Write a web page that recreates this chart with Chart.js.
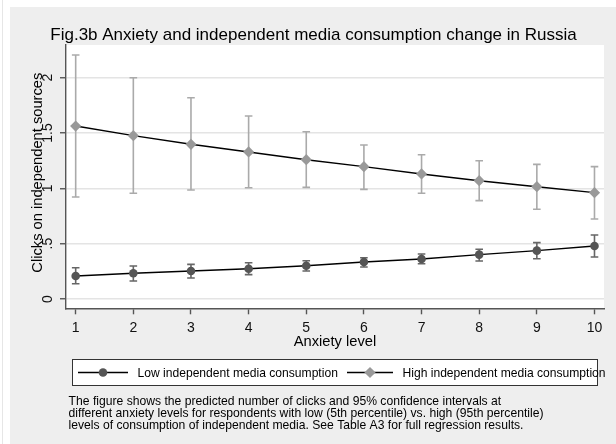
<!DOCTYPE html>
<html>
<head>
<meta charset="utf-8">
<script src="https://cdn.jsdelivr.net/npm/chart.js@4"></script>
<style>
  html, body { margin: 0; padding: 0; background: #fff; }
  canvas { display: block; }
</style>
</head>
<body>
<canvas id="chart" width="616" height="444"></canvas>
<script>
// Predicted clicks with 95% confidence intervals by anxiety level
const anxietyLevels = [1, 2, 3, 4, 5, 6, 7, 8, 9, 10];

const lowMean  = [0.208, 0.232, 0.253, 0.274, 0.301, 0.334, 0.362, 0.401, 0.437, 0.479];
const lowLower = [0.138, 0.163, 0.190, 0.220, 0.253, 0.289, 0.319, 0.343, 0.364, 0.380];
const lowUpper = [0.283, 0.298, 0.313, 0.328, 0.346, 0.373, 0.407, 0.449, 0.509, 0.578];

const highMean  = [1.563, 1.476, 1.398, 1.329, 1.259, 1.196, 1.130, 1.069, 1.015, 0.961];
const highLower = [0.922, 0.955, 0.985, 1.006, 1.009, 0.991, 0.955, 0.889, 0.811, 0.723];
const highUpper = [2.205, 2.000, 1.819, 1.654, 1.512, 1.392, 1.304, 1.250, 1.217, 1.196];

const xTickValues = [1, 2, 3, 4, 5, 6, 7, 8, 9, 10];
const xTickLabels = ['1', '2', '3', '4', '5', '6', '7', '8', '9', '10'];
const yTickValues = [0, 0.5, 1, 1.5, 2];
const yTickLabels = ['0', '.5', '1', '1.5', '2'];

const seriesNames = ['Low independent media consumption', 'High independent media consumption'];
const titleText = 'Fig.3b Anxiety and independent media consumption change in Russia';
const xTitleText = 'Anxiety level';
const yTitleText = 'Clicks on independent sources';
const noteLines = [
  'The figure shows the predicted number of clicks and 95% confidence intervals at',
  'different anxiety levels for respondents with low (5th percentile) vs. high (95th percentile)',
  'levels of consumption of independent media. See Table A3 for full regression results.'
];

const FONT = "'Liberation Sans', Arial, Helvetica, sans-serif";
const AXIS_COLOR = '#555';

function toPoints(values) {
  return anxietyLevels.map((x, i) => ({ x: x, y: values[i] }));
}

// Page background, graph region and white plot region
const backgroundPlugin = {
  id: 'backgroundPlugin',
  beforeDraw(chart) {
    const { ctx, width, height, chartArea } = chart;
    ctx.save();
    ctx.fillStyle = '#ffffff';
    ctx.fillRect(0, 0, width, height);
    ctx.strokeStyle = '#e6e6e6';
    ctx.lineWidth = 1;
    ctx.beginPath();
    ctx.moveTo(2.5, 0);
    ctx.lineTo(2.5, height);
    ctx.stroke();
    ctx.fillStyle = '#eeeeee';
    ctx.fillRect(10, 7, width - 10, height - 7);
    ctx.fillStyle = '#ffffff';
    ctx.fillRect(chartArea.left, chartArea.top, chartArea.right - chartArea.left, chartArea.bottom - chartArea.top);
    ctx.restore();
  }
};

// Confidence interval caps, drawn under the connected lines
const errorBarPlugin = {
  id: 'errorBarPlugin',
  beforeDatasetsDraw(chart) {
    const { ctx } = chart;
    const xs = chart.scales.x, ys = chart.scales.y;
    chart.data.datasets.forEach(ds => {
      if (!ds.ciLow) return;
      ctx.save();
      ctx.strokeStyle = ds.ciColor;
      ctx.lineWidth = 1.6;
      ds.data.forEach((p, i) => {
        const px = xs.getPixelForValue(p.x);
        const y0 = ys.getPixelForValue(ds.ciLow[i]);
        const y1 = ys.getPixelForValue(ds.ciHigh[i]);
        const hw = 3.8;
        ctx.beginPath();
        ctx.moveTo(px, y0); ctx.lineTo(px, y1);
        ctx.moveTo(px - hw, y0); ctx.lineTo(px + hw, y0);
        ctx.moveTo(px - hw, y1); ctx.lineTo(px + hw, y1);
        ctx.stroke();
      });
      ctx.restore();
    });
  }
};

function drawMarker(ctx, ds, x, y) {
  ctx.save();
  ctx.fillStyle = ds.pointBackgroundColor;
  ctx.beginPath();
  const r = ds.pointRadius;
  if (ds.pointStyle === 'rectRot') {
    ctx.moveTo(x - r, y);
    ctx.lineTo(x, y - r);
    ctx.lineTo(x + r, y);
    ctx.lineTo(x, y + r);
    ctx.closePath();
  } else {
    ctx.arc(x, y, r, 0, Math.PI * 2);
  }
  ctx.fill();
  ctx.restore();
}

// Vertical y tick labels, placed on the scale's own tick positions
const yLabelPlugin = {
  id: 'yLabelPlugin',
  afterDraw(chart) {
    const { ctx } = chart;
    const ys = chart.scales.y;
    ctx.save();
    ctx.fillStyle = '#111';
    ctx.font = '14px ' + FONT;
    ctx.textAlign = 'center';
    ctx.textBaseline = 'alphabetic';
    ys.ticks.forEach((t, i) => {
      const py = ys.getPixelForValue(t.value);
      ctx.save();
      ctx.translate(52, py);
      ctx.rotate(-Math.PI / 2);
      ctx.fillText(yTickLabels[i], 0, 0);
      ctx.restore();
    });
    ctx.restore();
  }
};

// Title, axis titles, legend box and note
const textPlugin = {
  id: 'textPlugin',
  afterDraw(chart) {
    const { ctx, chartArea } = chart;
    ctx.save();
    ctx.fillStyle = '#000';

    ctx.font = '17px ' + FONT;
    ctx.textAlign = 'center';
    ctx.textBaseline = 'alphabetic';
    ctx.fillText(titleText, 313.5, 40);

    ctx.font = '14.7px ' + FONT;
    ctx.fillText(xTitleText, (chartArea.left + chartArea.right) / 2, 346);

    ctx.save();
    ctx.translate(42, (chartArea.top + chartArea.bottom) / 2 - 4);
    ctx.rotate(-Math.PI / 2);
    ctx.fillText(yTitleText, 0, 0);
    ctx.restore();

    // legend
    const bx = 72, by = 359, bw = 526, bh = 27;
    ctx.fillStyle = '#fff';
    ctx.fillRect(bx, by, bw, bh);
    ctx.strokeStyle = '#333';
    ctx.lineWidth = 1;
    ctx.strokeRect(bx + 0.5, by + 0.5, bw - 1, bh - 1);

    const cy = 372.5;
    const keyStarts = [78, 347];
    const keyLens = [50, 46];
    ctx.font = '12.1px ' + FONT;
    ctx.textAlign = 'left';
    chart.data.datasets.forEach((ds, i) => {
      const x0 = keyStarts[i], len = keyLens[i];
      ctx.strokeStyle = ds.borderColor;
      ctx.lineWidth = ds.borderWidth;
      ctx.beginPath();
      ctx.moveTo(x0, cy);
      ctx.lineTo(x0 + len, cy);
      ctx.stroke();
      drawMarker(ctx, ds, x0 + len / 2, cy);
      ctx.fillStyle = '#000';
      ctx.fillText(ds.label, x0 + len + 9.5, 377);
    });

    // note
    ctx.font = '12.15px ' + FONT;
    ctx.fillStyle = '#000';
    const noteBase = [404.5, 416.7, 429];
    noteLines.forEach((line, i) => ctx.fillText(line, 68.6, noteBase[i]));
    ctx.restore();
  }
};

new Chart(document.getElementById('chart').getContext('2d'), {
  type: 'line',
  data: {
    datasets: [
      {
        label: seriesNames[0],
        data: toPoints(lowMean),
        ciLow: lowLower,
        ciHigh: lowUpper,
        ciColor: '#666666',
        borderColor: '#000000',
        borderWidth: 1.4,
        tension: 0,
        fill: false,
        pointStyle: 'circle',
        pointRadius: 4.3,
        pointBackgroundColor: '#555555',
        pointBorderColor: '#555555',
        pointBorderWidth: 0
      },
      {
        label: seriesNames[1],
        data: toPoints(highMean),
        ciLow: highLower,
        ciHigh: highUpper,
        ciColor: '#aaaaaa',
        borderColor: '#000000',
        borderWidth: 1.4,
        tension: 0,
        fill: false,
        pointStyle: 'rectRot',
        pointRadius: 5.6,
        pointBackgroundColor: '#999999',
        pointBorderColor: '#999999',
        pointBorderWidth: 0
      }
    ]
  },
  options: {
    responsive: false,
    animation: false,
    devicePixelRatio: 1,
    layout: { padding: { left: 10, right: 12, top: 45, bottom: 0 } },
    plugins: {
      legend: { display: false },
      title: { display: false },
      tooltip: { enabled: false }
    },
    scales: {
      x: {
        type: 'linear',
        min: 0.832,
        max: 10.165,
        afterBuildTicks: s => { s.ticks = xTickValues.map(v => ({ value: v })); },
        afterFit: s => { s.height = 135.7; },
        grid: { drawOnChartArea: false, tickLength: 6, tickColor: AXIS_COLOR, tickWidth: 1.4 },
        border: { color: AXIS_COLOR, width: 1.4 },
        ticks: {
          color: '#111',
          font: { family: FONT, size: 14 },
          padding: 5,
          maxRotation: 0,
          autoSkip: false,
          callback: (v, i) => xTickLabels[i]
        }
      },
      y: {
        type: 'linear',
        min: -0.0841,
        max: 2.2955,
        afterBuildTicks: s => { s.ticks = yTickValues.map(v => ({ value: v })); },
        afterFit: s => { s.width = 56; },
        grid: { color: '#e4e4e4', lineWidth: 1.5, tickLength: 6, tickColor: AXIS_COLOR, tickWidth: 1.4 },
        border: { color: AXIS_COLOR, width: 1.4 },
        ticks: { display: false }
      }
    }
  },
  plugins: [backgroundPlugin, errorBarPlugin, yLabelPlugin, textPlugin]
});
</script>
</body>
</html>
